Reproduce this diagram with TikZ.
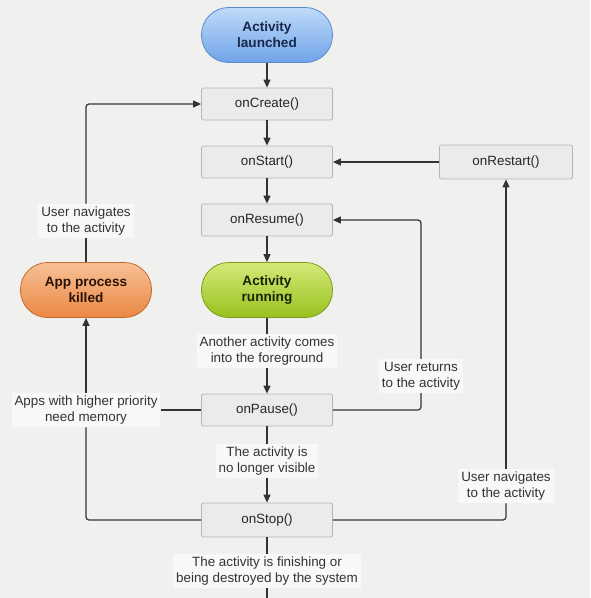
\documentclass[tikz,border=0pt]{standalone}
\usepackage{fontspec}
\setmainfont{Liberation Sans}
\usetikzlibrary{arrows.meta}
\definecolor{bgc}{HTML}{F0F1EF}
\definecolor{boxfill}{HTML}{EBEBEB}
\definecolor{boxdraw}{HTML}{B5B5B5}
\definecolor{linec}{HTML}{333333}
\definecolor{bluetop}{HTML}{BFDBF8}
\definecolor{bluebot}{HTML}{6FA3E8}
\definecolor{blueline}{HTML}{5A8AC8}
\definecolor{bluetext}{HTML}{18284A}
\definecolor{greentop}{HTML}{D4EA78}
\definecolor{greenbot}{HTML}{97C11E}
\definecolor{greenline}{HTML}{7D9C1C}
\definecolor{greentext}{HTML}{1A2405}
\definecolor{orangetop}{HTML}{F8C096}
\definecolor{orangebot}{HTML}{EA8843}
\definecolor{orangeline}{HTML}{C36A2C}
\definecolor{orangetext}{HTML}{2A1406}
\definecolor{lblfill}{HTML}{F7F8F7}
\tikzset{
  method/.style={draw=boxdraw, fill=boxfill, rounded corners=2pt, minimum width=131pt,
    minimum height=32pt, font=\fontsize{13.4}{16}\selectfont, text=black!85, line width=0.8pt},
  pill/.style={rounded corners=27pt, minimum width=131pt, minimum height=55pt,
    align=center, font=\fontsize{13.6}{16}\selectfont\bfseries, line width=0.8pt},
  lbl/.style={fill=lblfill, align=center, font=\fontsize{13.4}{16}\selectfont, text=black!80,
    inner sep=3pt},
  conn/.style={draw=linec, line width=1.2pt, rounded corners=3pt},
  arr/.style={conn, -{Triangle[length=8pt,width=7pt]}},
}
\begin{document}
\begin{tikzpicture}[x=1pt,y=-1pt]
\fill[bgc] (0,0) rectangle (590,598);
\useasboundingbox (0,0) rectangle (590,598);

\node[pill, draw=blueline, top color=bluetop, bottom color=bluebot, text=bluetext] (launch) at (267,35) {Activity\\launched};
\node[method] (create) at (267,104) {onCreate()};
\node[method] (start) at (267,162) {onStart()};
\node[method] (resume) at (267,220) {onResume()};
\node[pill, draw=greenline, top color=greentop, bottom color=greenbot, text=greentext] (run) at (267,290) {Activity\\running};
\node[lbl] (lfore) at (267,351) {Another activity comes\\into the foreground};
\node[method] (pause) at (267,410) {onPause()};
\node[lbl] (lvis) at (267,461) {The activity is\\no longer visible};
\node[method, minimum height=34pt] (stop) at (267,520) {onStop()};
\node[lbl] (lfin) at (267,571) {The activity is finishing or\\being destroyed by the system};
\coordinate (bottom) at (267,598);

\node[method, minimum width=133pt, minimum height=34pt] (restart) at (506,162) {onRestart()};
\node[pill, draw=orangeline, top color=orangetop, bottom color=orangebot, text=orangetext] (killed) at (86,290) {App process\\killed};
\node[lbl] (lnav1) at (86,221) {User navigates\\to the activity};
\node[lbl] (lapps) at (86,410) {Apps with higher priority\\need memory};
\node[lbl] (lret) at (421,376) {User returns\\to the activity};
\node[lbl] (lnav2) at (506,486) {User navigates\\to the activity};

% main column
\draw[arr] (launch) -- (create);
\draw[arr] (create) -- (start);
\draw[arr] (start) -- (resume);
\draw[arr] (resume) -- (run);
\draw[conn] (run) -- (lfore);
\draw[arr] (lfore) -- (pause);
\draw[conn] (pause) -- (lvis);
\draw[arr] (lvis) -- (stop);
\draw[conn] (stop) -- (lfin);
\draw[conn] (lfin) -- (bottom);

% left loop
\draw[conn] (stop.west) -| (lapps.south);
\draw[conn] (pause.west) -- (pause.west -| lapps.east);
\draw[arr] (lapps.north) -- (killed.south);
\draw[conn] (killed.north) -- (lnav1.south);
\draw[arr] (lnav1.north) |- (create.west);

% right loops
\draw[conn] (pause.east) -| (lret.south);
\draw[arr] (lret.north) |- (resume.east);
\draw[conn] (stop.east) -| (lnav2.south);
\draw[arr] (lnav2.north) -- (restart.south);
\draw[arr] (restart.west) -- (start.east);
\end{tikzpicture}
\end{document}
